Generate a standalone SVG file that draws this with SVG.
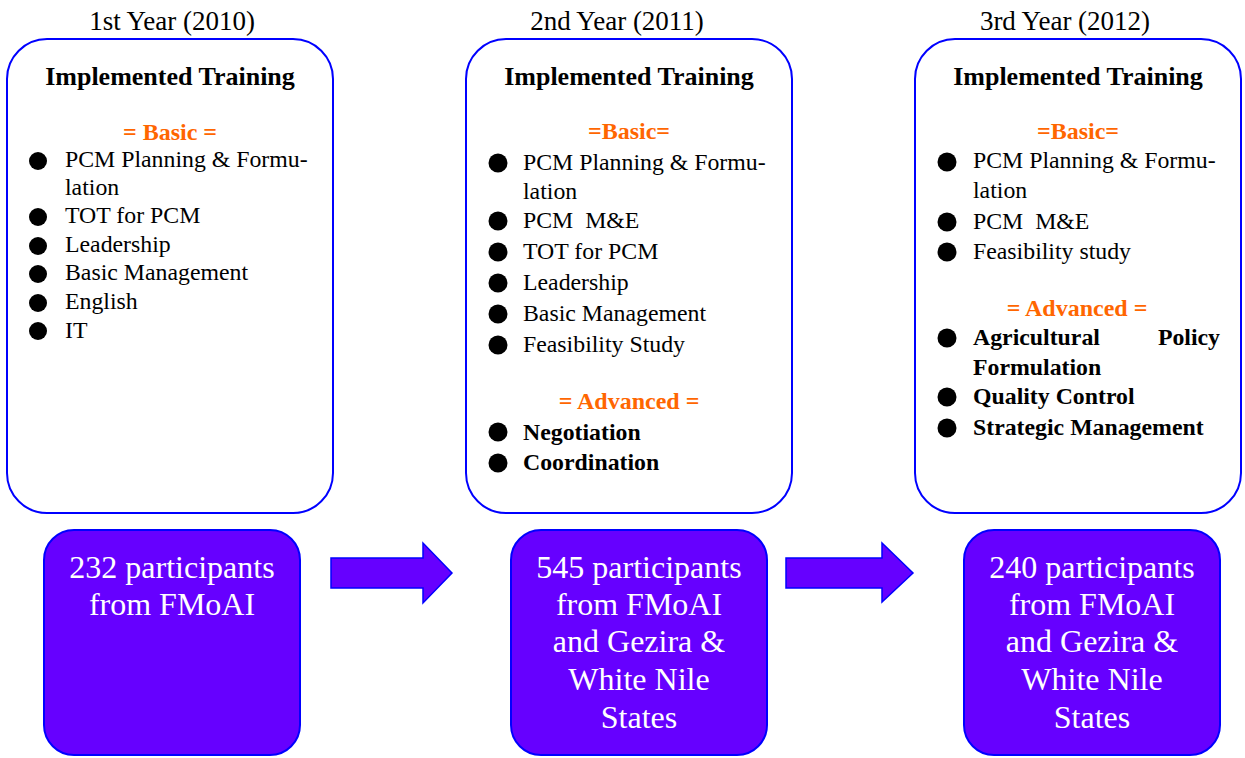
<svg xmlns="http://www.w3.org/2000/svg" width="1245" height="758" viewBox="0 0 1245 758">
<style>
.yr{font-family:"Liberation Serif","Times New Roman",serif;font-size:27px;fill:#000;text-anchor:middle}
.ttl{font-family:"Liberation Serif","Times New Roman",serif;font-size:26px;font-weight:bold;fill:#000;text-anchor:middle}
.sec{font-family:"Liberation Serif","Times New Roman",serif;font-size:24px;font-weight:bold;fill:#FF6600;text-anchor:middle}
.it{font-family:"Liberation Serif","Times New Roman",serif;font-size:23.8px;fill:#000;white-space:pre}
.itb{font-family:"Liberation Serif","Times New Roman",serif;font-size:23.8px;font-weight:bold;fill:#000}
.box{fill:#fff;stroke:#0000FF;stroke-width:2}
.pbox{fill:#6600FF;stroke:#0000FF;stroke-width:2}
.ptxt{font-family:"Liberation Serif","Times New Roman",serif;font-size:32px;fill:#fff;text-anchor:middle}
.arrow{fill:#6600FF;stroke:#0000FF;stroke-width:1.5}
.dot{fill:#000}
</style>

<g id="year1">
<text class="yr" x="172" y="30">1st Year (2010)</text>
<rect class="box" x="7" y="39" width="326" height="474" rx="40"/>
<text class="ttl" x="170" y="85">Implemented Training</text>
<text class="sec" x="170" y="140">= Basic =</text>
<circle class="dot" cx="38" cy="161" r="9"/><text class="it" x="65" y="167">PCM Planning &amp; Formu-</text>
<text class="it" x="65" y="195">lation</text>
<circle class="dot" cx="38" cy="217" r="9"/><text class="it" x="65" y="223">TOT for PCM</text>
<circle class="dot" cx="38" cy="246" r="9"/><text class="it" x="65" y="252">Leadership</text>
<circle class="dot" cx="38" cy="274" r="9"/><text class="it" x="65" y="280">Basic Management</text>
<circle class="dot" cx="38" cy="303" r="9"/><text class="it" x="65" y="309">English</text>
<circle class="dot" cx="38" cy="331" r="9"/><text class="it" x="65" y="338">IT</text>
</g>

<g id="year2">
<text class="yr" x="617" y="30">2nd Year (2011)</text>
<rect class="box" x="466" y="39" width="326" height="474" rx="40"/>
<text class="ttl" x="629" y="85">Implemented Training</text>
<text class="sec" x="629" y="139">=Basic=</text>
<circle class="dot" cx="498" cy="163" r="9.5"/><text class="it" x="523" y="170">PCM Planning &amp; Formu-</text>
<text class="it" x="523" y="199">lation</text>
<circle class="dot" cx="498" cy="221" r="9.5"/><text class="it" x="523" y="228">PCM  M&amp;E</text>
<circle class="dot" cx="498" cy="252" r="9.5"/><text class="it" x="523" y="259">TOT for PCM</text>
<circle class="dot" cx="498" cy="283" r="9.5"/><text class="it" x="523" y="290">Leadership</text>
<circle class="dot" cx="498" cy="314" r="9.5"/><text class="it" x="523" y="321">Basic Management</text>
<circle class="dot" cx="498" cy="345" r="9.5"/><text class="it" x="523" y="352">Feasibility Study</text>
<text class="sec" x="629" y="409">= Advanced =</text>
<circle class="dot" cx="498" cy="432" r="9.5"/><text class="itb" x="523" y="440">Negotiation</text>
<circle class="dot" cx="498" cy="463" r="9.5"/><text class="itb" x="523" y="470">Coordination</text>
</g>

<g id="year3">
<text class="yr" x="1065" y="30">3rd Year (2012)</text>
<rect class="box" x="915" y="39" width="326" height="474" rx="40"/>
<text class="ttl" x="1078" y="85">Implemented Training</text>
<text class="sec" x="1078" y="139">=Basic=</text>
<circle class="dot" cx="947" cy="162" r="9.5"/><text class="it" x="973" y="168">PCM Planning &amp; Formu-</text>
<text class="it" x="973" y="198">lation</text>
<circle class="dot" cx="947" cy="222" r="9.5"/><text class="it" x="973" y="229">PCM  M&amp;E</text>
<circle class="dot" cx="947" cy="252" r="9.5"/><text class="it" x="973" y="259">Feasibility study</text>
<text class="sec" x="1077" y="316">= Advanced =</text>
<circle class="dot" cx="947" cy="338" r="9.5"/><text class="itb" x="973" y="345">Agricultural</text><text class="itb" x="1220" y="345" text-anchor="end">Policy</text>
<text class="itb" x="973" y="375">Formulation</text>
<circle class="dot" cx="947" cy="397" r="9.5"/><text class="itb" x="973" y="404">Quality Control</text>
<circle class="dot" cx="947" cy="428" r="9.5"/><text class="itb" x="973" y="435">Strategic Management</text>
</g>

<g id="participants1">
<rect class="pbox" x="44" y="530" width="256" height="225" rx="30"/>
<text class="ptxt" x="172" y="578">232 participants</text>
<text class="ptxt" x="172" y="615">from FMoAI</text>
</g>

<g id="participants2">
<rect class="pbox" x="511" y="530" width="256" height="225" rx="30"/>
<text class="ptxt" x="639" y="578">545 participants</text>
<text class="ptxt" x="639" y="615">from FMoAI</text>
<text class="ptxt" x="639" y="652">and Gezira &amp;</text>
<text class="ptxt" x="639" y="690">White Nile</text>
<text class="ptxt" x="639" y="728">States</text>
</g>

<g id="participants3">
<rect class="pbox" x="964" y="530" width="256" height="225" rx="30"/>
<text class="ptxt" x="1092" y="578">240 participants</text>
<text class="ptxt" x="1092" y="615">from FMoAI</text>
<text class="ptxt" x="1092" y="652">and Gezira &amp;</text>
<text class="ptxt" x="1092" y="690">White Nile</text>
<text class="ptxt" x="1092" y="728">States</text>
</g>

<g id="connectors">
<polygon class="arrow" points="331,558 423,558 423,543 452,573 423,603 423,588 331,588"/>
<polygon class="arrow" points="786,558 882,558 882,543 913,573 882,602 882,588 786,588"/>
</g>
</svg>
